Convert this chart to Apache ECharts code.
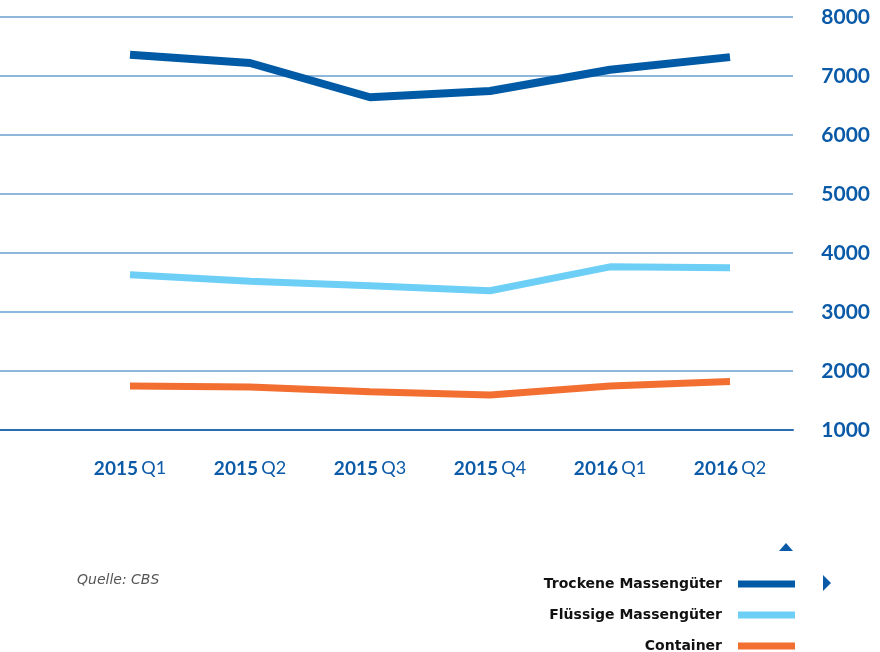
<!DOCTYPE html>
<html>
<head>
<meta charset="utf-8">
<script src="https://cdn.jsdelivr.net/npm/echarts@6/dist/echarts.min.js"></script>
<style>
  html, body { margin: 0; padding: 0; background: #fff; }
  #main { width: 880px; height: 652px; }
</style>
</head>
<body>
<div id="main"></div>
<script>
// Daten (Tausend Tonnen)
var years = ['2015', '2015', '2015', '2015', '2016', '2016'];
var quarters = ['Q1', 'Q2', 'Q3', 'Q4', 'Q1', 'Q2'];
var trocken = [7360, 7220, 6640, 6745, 7105, 7320];
var fluessig = [3630, 3520, 3445, 3360, 3765, 3750];
var container = [1745, 1730, 1650, 1595, 1745, 1820];
var yTicks = [1000, 2000, 3000, 4000, 5000, 6000, 7000, 8000];

var seriesNames = ['Trockene Massengüter', 'Flüssige Massengüter', 'Container'];
var seriesColors = ['#005aa5', '#6dcff6', '#f26f31'];
var seriesData = [trocken, fluessig, container];

var categories = years.map(function (y, i) { return y + ' ' + quarters[i]; });
var blue = '#0a5aa8';

var myChart = echarts.init(document.getElementById('main'));

// eine Legende pro Zeile, damit nichts umbricht
var legends = seriesNames.map(function (name, i) {
    return {
        orient: 'vertical', align: 'right', right: 80, top: 572 + i * 31,
        itemWidth: 57, itemHeight: 7, icon: 'rect',
        textStyle: { fontFamily: 'DejaVu Sans', fontWeight: 'bold', fontSize: 14, color: '#111', padding: [0, 11, 0, 0] },
        data: [name]
    };
});

var option = {
    animation: false,
    grid: [
        // Raster über die ganze Breite
        { left: 0, right: 87, top: 17, bottom: 222 },
        // Zeichenfläche der Linien
        { left: 70, right: 90, top: 17, bottom: 222 }
    ],
    xAxis: [
        {
            gridIndex: 0, type: 'category', data: categories,
            axisLine: { show: true, lineStyle: { color: '#2a6db5', width: 2 } },
            axisTick: { show: false }, axisLabel: { show: false }, splitLine: { show: false }
        },
        {
            gridIndex: 1, type: 'category', data: categories, boundaryGap: true,
            axisLine: { show: false }, axisTick: { show: false },
            axisLabel: {
                margin: 29,
                formatter: function (v) {
                    var p = v.split(' ');
                    return '{y|' + p[0] + '} {q|' + p[1] + '}';
                },
                rich: {
                    y: { fontFamily: 'Lato', fontWeight: 'bold', fontSize: 19, color: blue },
                    q: { fontFamily: 'Lato', fontSize: 18, color: blue }
                }
            }
        }
    ],
    yAxis: [
        {
            gridIndex: 0, type: 'value', position: 'right',
            min: yTicks[0], max: yTicks[yTicks.length - 1], interval: 1000,
            axisLine: { show: false }, axisTick: { show: false },
            splitLine: { lineStyle: { color: '#6a9fd0', width: 1.5 } },
            axisLabel: {
                align: 'right', margin: 77,
                formatter: function (v) { return String(v); },
                fontFamily: 'Lato', fontWeight: 'bold', fontSize: 21, color: blue
            }
        },
        {
            gridIndex: 1, type: 'value',
            min: yTicks[0], max: yTicks[yTicks.length - 1], interval: 1000,
            show: false
        }
    ],
    legend: legends,
    graphic: [
        {
            type: 'text', left: 77, top: 573,
            style: { text: 'Quelle: CBS', fontFamily: 'DejaVu Sans', fontStyle: 'italic', fontSize: 14, fill: '#555' }
        },
        {
            type: 'polygon', shape: { points: [[779, 551], [793, 551], [786, 543]] },
            style: { fill: blue }
        },
        {
            type: 'polygon', shape: { points: [[823, 575], [831, 583], [823, 591]] },
            style: { fill: blue }
        }
    ],
    series: seriesNames.map(function (name, i) {
        return {
            name: name, type: 'line', xAxisIndex: 1, yAxisIndex: 1,
            data: seriesData[i], showSymbol: false, color: seriesColors[i],
            lineStyle: { width: i === 0 ? 8 : 7, color: seriesColors[i], cap: 'butt' }
        };
    })
};

myChart.setOption(option);
</script>
</body>
</html>
